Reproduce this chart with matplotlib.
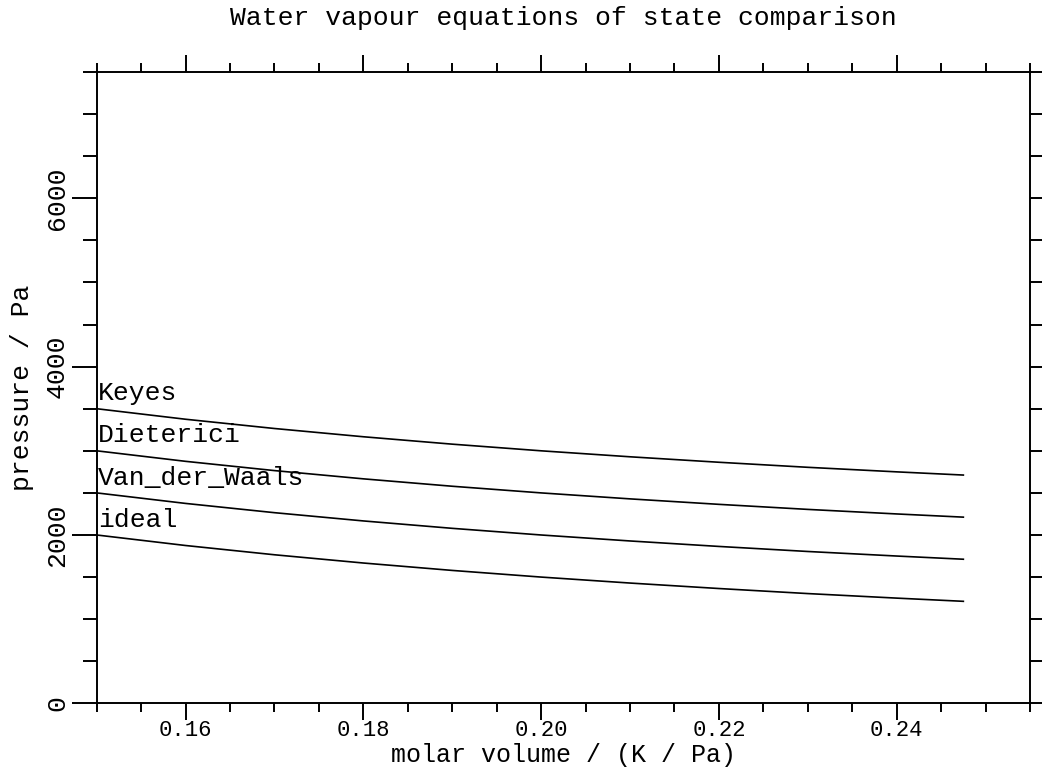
import numpy as np
import matplotlib as mpl
mpl.use('Agg')
import matplotlib.pyplot as plt
from matplotlib.ticker import MultipleLocator

# molar volume sample points and pressures
volume = [0.150, 0.160, 0.170, 0.180, 0.190, 0.200, 0.210, 0.220, 0.230, 0.240, 0.2475]
p_ideal = [2000, 1875, 1765, 1667, 1579, 1500, 1429, 1364, 1304, 1250, 1212]
p_vdw = [2500, 2375, 2265, 2167, 2079, 2000, 1929, 1864, 1804, 1750, 1712]
p_dieterici = [3000, 2875, 2765, 2667, 2579, 2500, 2429, 2364, 2304, 2250, 2212]
p_keyes = [3500, 3375, 3265, 3167, 3079, 3000, 2929, 2864, 2804, 2750, 2712]

series = [('ideal', p_ideal), ('Van_der_Waals', p_vdw),
          ('Dieterici', p_dieterici), ('Keyes', p_keyes)]

plt.rcParams['font.family'] = ['Liberation Mono', 'DejaVu Sans Mono']
fs = 19

fig = plt.figure(figsize=(10.42, 7.67), dpi=100)
ax = fig.add_axes([0.0928, 0.0830, 0.9885 - 0.0928, 0.9061 - 0.0830])

for name, p in series:
    ax.plot(volume, p, color='k', lw=1.2)
    ax.annotate(name, (volume[0], p[0]), xytext=(1, 6), textcoords='offset points',
                ha='left', va='baseline', fontsize=fs)

ax.set_xlim(0.15, 0.255)
ax.set_ylim(0, 7500)
ax.xaxis.set_major_locator(MultipleLocator(0.02))
ax.xaxis.set_minor_locator(MultipleLocator(0.005))
ax.yaxis.set_major_locator(MultipleLocator(2000))
ax.yaxis.set_minor_locator(MultipleLocator(500))
ax.xaxis.set_major_formatter(mpl.ticker.FormatStrFormatter('%.2f'))

for s in ax.spines.values():
    s.set_linewidth(1.4)
ax.tick_params(axis='x', which='major', direction='out', length=12, width=1.4,
               top=True, bottom=True, labelsize=16, pad=0)
ax.tick_params(axis='x', which='minor', direction='out', length=6.5, width=1.4,
               top=True, bottom=True)
ax.tick_params(axis='y', which='major', direction='out', length=18, width=1.4,
               left=True, right=True, labelsize=fs, pad=2, labelrotation=90)
ax.tick_params(axis='y', which='minor', direction='out', length=10, width=1.4,
               left=True, right=True)
for lab in ax.get_yticklabels():
    lab.set_va('center')

ax.set_xlabel('molar volume / (K / Pa)', fontsize=18, va='baseline')
ax.xaxis.set_label_coords(0.5, -0.0929)
ax.set_ylabel('pressure / Pa', fontsize=fs, va='center')
ax.yaxis.set_label_coords(-0.080, 0.5)
fig.text(0.541, 1 - 18 / 767, 'Water vapour equations of state comparison',
         fontsize=fs, ha='center', va='center')

fig.savefig('out.png', dpi=100, facecolor='w')
